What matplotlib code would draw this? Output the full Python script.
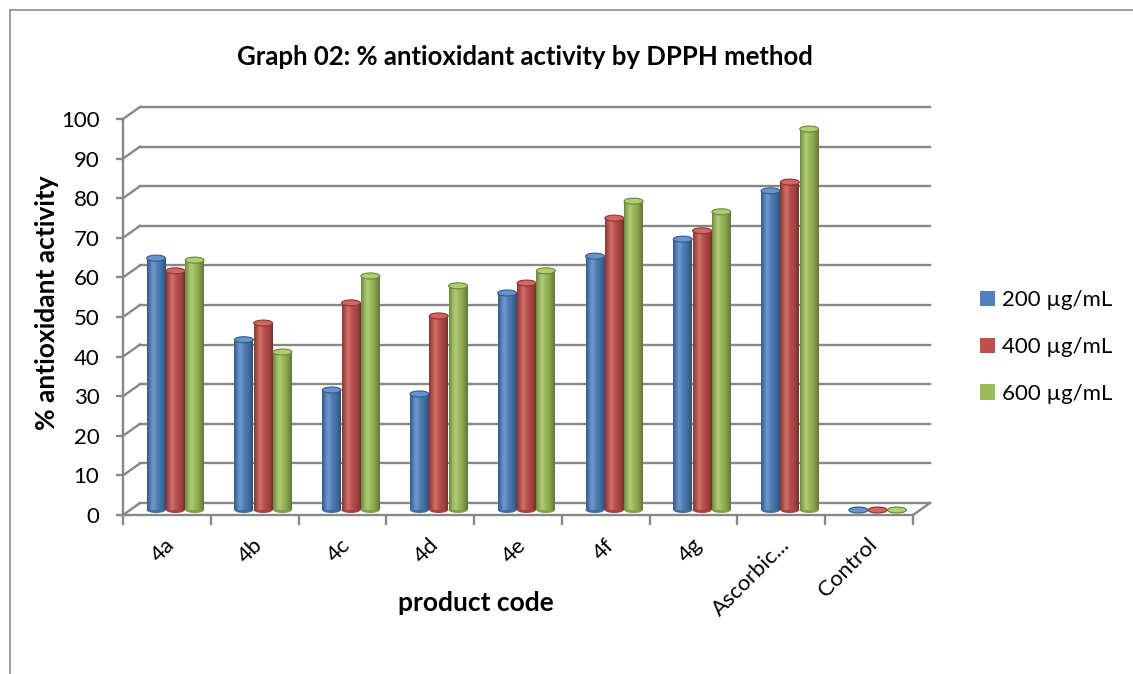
import matplotlib.pyplot as plt
import numpy as np
from matplotlib.patches import Ellipse
from matplotlib.lines import Line2D
from matplotlib.transforms import ScaledTranslation
from matplotlib.colors import to_rgb

categories = ['4a', '4b', '4c', '4d', '4e', '4f', '4g', 'Ascorbic...', 'Control']
conc_200 = [63.6, 43.0, 30.3, 29.3, 54.8, 64.1, 68.4, 80.6, 0]
conc_400 = [60.4, 47.2, 52.3, 49.0, 57.3, 73.7, 70.5, 82.8, 0]
conc_600 = [63.1, 39.9, 59.1, 56.6, 60.4, 78.0, 75.3, 96.2, 0]
series_names = ['200 µg/mL', '400 µg/mL', '600 µg/mL']
colors = ['#4F81BD', '#C0504D', '#9BBB59']
yticks = list(range(0, 101, 10))

plt.rcParams['font.family'] = ['Lato', 'DejaVu Sans']

W, H = 1133, 674
fig = plt.figure(figsize=(W / 100, H / 100), dpi=100)
# front plane of the 3d box, in pixels
ax_l, ax_r, ax_b, ax_t = 123, 913, 515, 119
ax = fig.add_axes([ax_l / W, 1 - ax_b / H, (ax_r - ax_l) / W, (ax_b - ax_t) / H])
ax.set_xlim(-0.5, 8.5)
ax.set_ylim(0, 100)

px_x = 9 / (ax_r - ax_l)      # data units per pixel
px_y = 100 / (ax_b - ax_t)
# depth offset of the back wall
ddx, ddy = 17 * px_x, 12 * px_y
grid_col = '#878787'

# back wall gridlines and left side wall
for v in yticks:
    ax.plot([-0.5 + ddx, 8.5 + ddx], [v + ddy, v + ddy], color=grid_col, lw=1.7, zorder=0, clip_on=False)
    ax.plot([-0.5, -0.5 + ddx], [v, v + ddy], color=grid_col, lw=1.7, zorder=0, clip_on=False)
# floor
ax.plot([8.5, 8.5 + ddx], [0, ddy], color=grid_col, lw=1.7, zorder=0, clip_on=False)

# bars (cylinders) at mid depth
mdx, mdy = ddx / 2, ddy / 2 - 1 * px_y
bw = 0.215
step = 0.22
cap_h = 6 * px_y
x = np.arange(len(categories))
t = np.linspace(0, 1, 60)
shade = np.where(t < 0.35, 1 - 0.3 * ((0.35 - t) / 0.35) ** 2, 1 - 0.38 * ((t - 0.35) / 0.65) ** 2)
glow = 0.18 * np.exp(-((t - 0.33) / 0.14) ** 2)

handles = []
for i, (vals, col) in enumerate(zip([conc_200, conc_400, conc_600], colors)):
    c = np.array(to_rgb(col))
    xs = x + (i - 1) * step + mdx
    bars = ax.bar(xs, vals, width=bw, bottom=mdy, color=col, zorder=3 + i, lw=0, clip_on=False)
    handles.append(bars[0])
    grad = np.clip(c[None, :] * shade[:, None] + glow[:, None] * (1 - c[None, :]), 0, 1)[None, :, :]
    for xc, v, b in zip(xs, vals, bars):
        ax.add_patch(Ellipse((xc, mdy), bw, cap_h, facecolor=c * 0.85, lw=0, zorder=2.9 + i, clip_on=False))
        if v > 0:
            im = ax.imshow(grad, extent=[xc - bw / 2, xc + bw / 2, mdy, mdy + v], aspect='auto',
                           zorder=3.1 + i, interpolation='bilinear')
            im.set_clip_path(b)
        ax.add_patch(Ellipse((xc, mdy + v), bw, cap_h, facecolor=np.clip(c * 1.0 + 0.08, 0, 1),
                             edgecolor=c * 0.7, lw=0.8, zorder=3.2 + i, clip_on=False))

ax.set_xlim(-0.5, 8.5)
ax.set_ylim(0, 100)

for s in ['top', 'right']:
    ax.spines[s].set_visible(False)
for s in ['left', 'bottom']:
    ax.spines[s].set_color(grid_col)
    ax.spines[s].set_linewidth(1.7)

ax.set_yticks(yticks)
ax.set_yticklabels([str(v) for v in yticks], fontsize=16)
ax.tick_params(axis='y', length=5, width=1.7, color=grid_col, pad=12)
ax.set_xticks(x)
ax.set_xticklabels(categories, fontsize=16, rotation=45, ha='right', va='center', rotation_mode='anchor')
ax.set_xticks(np.arange(-0.5, 9, 1), minor=True)
ax.tick_params(axis='x', which='major', length=0, pad=0)
ax.tick_params(axis='x', which='minor', length=7, width=1.7, color=grid_col)
for lbl in ax.get_xticklabels():
    lbl.set_transform(lbl.get_transform() + ScaledTranslation(0.05, -0.27, fig.dpi_scale_trans))

fig.text(525 / W, 1 - 57 / H, 'Graph 02: % antioxidant activity by DPPH method',
         fontsize=18.5, fontweight='bold', ha='center', va='center')
fig.text(476 / W, 1 - 603 / H, 'product code', fontsize=19, fontweight='bold', ha='center', va='center')
fig.text(47 / W, 1 - 303 / H, '% antioxidant activity', fontsize=19, fontweight='bold',
         ha='center', va='center', rotation=90)

ax.legend(handles, series_names, loc='center left', bbox_to_anchor=(980 / W, 1 - 347 / H),
          bbox_transform=fig.transFigure, frameon=False, fontsize=16, handlelength=0.68,
          handleheight=0.68, handletextpad=0.32, labelspacing=1.2, borderpad=0, borderaxespad=0)

# chart area border
fig.add_artist(Line2D([10 / W, 10 / W], [0, 1 - 10 / H], transform=fig.transFigure, color='#8c8c8c', lw=1.2))
fig.add_artist(Line2D([10 / W, 1], [1 - 10 / H, 1 - 10 / H], transform=fig.transFigure, color='#8c8c8c', lw=1.2))

fig.savefig('out.png', dpi=100)
